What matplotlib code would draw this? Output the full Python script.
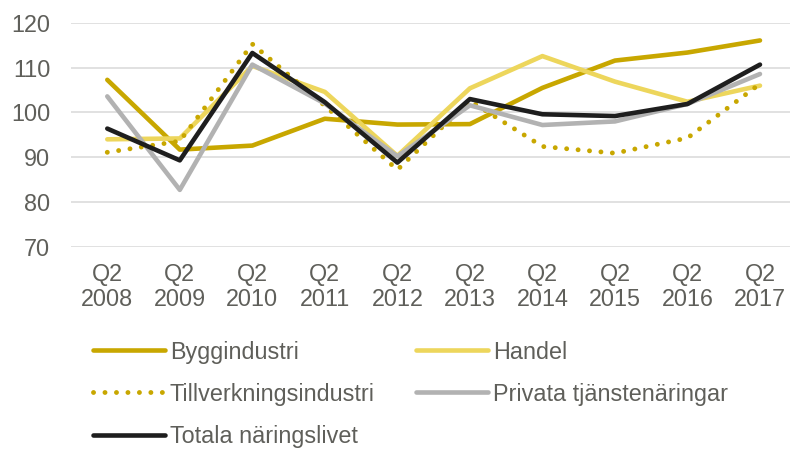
import numpy as np
import matplotlib
matplotlib.use("Agg")
import matplotlib.pyplot as plt

# data
kvartal = ["Q2\n2008", "Q2\n2009", "Q2\n2010", "Q2\n2011", "Q2\n2012",
           "Q2\n2013", "Q2\n2014", "Q2\n2015", "Q2\n2016", "Q2\n2017"]
bygg = [107.3, 91.7, 92.6, 98.6, 97.3, 97.4, 105.5, 111.6, 113.4, 116.1]
handel = [94.0, 94.2, 110.4, 104.6, 90.3, 105.4, 112.6, 106.9, 102.4, 106.0]
tillv = [91.1, 93.6, 115.3, 101.5, 87.2, 102.6, 92.4, 90.9, 94.3, 106.4]
privata = [103.6, 82.7, 110.7, 102.0, 90.2, 101.6, 97.2, 98.0, 101.9, 108.6]
totala = [96.4, 89.3, 113.3, 102.3, 88.8, 103.0, 99.6, 99.2, 101.9, 110.7]

plt.rcParams['font.family'] = ['Liberation Sans', 'DejaVu Sans']
txt = '#5f5f5a'
fs = 16.8

fig = plt.figure(figsize=(7.9, 4.51), dpi=100)
ax = fig.add_axes([0.0899, 0.453, 0.918, 0.496])
x = np.arange(len(kvartal))

l1, = ax.plot(x, bygg, color='#C8A700', lw=3.3, solid_capstyle='round', label='Byggindustri')
l2, = ax.plot(x, handel, color='#EDD65C', lw=3.3, solid_capstyle='round', label='Handel')
l3, = ax.plot(x, tillv, color='#C8A700', lw=3.5, linestyle=(0, (0.01, 2.35)),
              dash_capstyle='round', label='Tillverkningsindustri')
l4, = ax.plot(x, privata, color='#B2B2B2', lw=3.3, solid_capstyle='round', label='Privata tjänstenäringar')
l5, = ax.plot(x, totala, color='#1E1E1E', lw=3.3, solid_capstyle='round', label='Totala näringslivet')

ax.set_ylim(70, 120)
ax.set_yticks([70, 80, 90, 100, 110, 120])
ax.set_xlim(-0.5, 9.5)
ax.set_xticks(x)
ax.set_xticklabels(kvartal, linespacing=1.1)
ax.grid(axis='y', color='#D9D9D9', lw=1.1)
ax.set_axisbelow(True)
for s in ax.spines.values():
    s.set_visible(False)
ax.tick_params(axis='y', length=0, pad=15, labelsize=fs, labelcolor=txt)
ax.tick_params(axis='x', length=0, pad=12, labelsize=fs, labelcolor=txt)

fig.legend([l1, l3, l5, l2, l4],
           [l1.get_label(), l3.get_label(), l5.get_label(), l2.get_label(), l4.get_label()],
           ncol=2, loc='upper left', bbox_to_anchor=(0.1177, 0.245), frameon=False,
           fontsize=fs, labelcolor=txt, handlelength=3.1, handletextpad=0.2,
           columnspacing=1.75, labelspacing=0.82, borderpad=0, borderaxespad=0)

fig.savefig('out.png', dpi=100)
